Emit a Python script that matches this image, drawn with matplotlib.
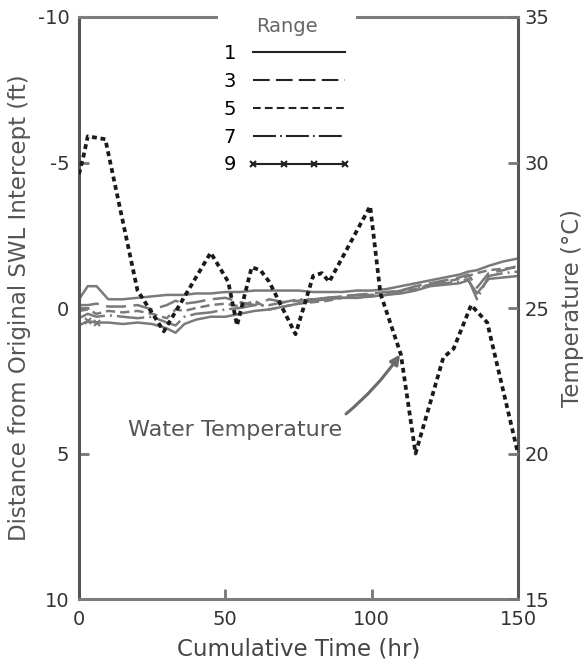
import numpy as np
import matplotlib.pyplot as plt

plt.rcParams['axes.unicode_minus'] = False

# cumulative time (hr) at which the beach profiles were read
hours = [0, 3, 6, 10, 15, 20, 25, 30, 33, 36, 40, 45, 50, 55, 60, 65, 70,
         75, 80, 85, 90, 95, 100, 105, 110, 115, 120, 125, 130, 133, 136,
         140, 145, 150]

# distance from original SWL intercept (ft) for each profile range
range_1 = [-0.3, -0.75, -0.75, -0.3, -0.3, -0.35, -0.4, -0.45, -0.45, -0.45,
           -0.5, -0.5, -0.55, -0.55, -0.6, -0.6, -0.6, -0.6, -0.55, -0.55,
           -0.55, -0.6, -0.6, -0.65, -0.75, -0.85, -0.95, -1.05, -1.15, -1.25,
           -1.3, -1.45, -1.6, -1.7]
range_3 = [-0.1, -0.1, -0.15, -0.05, -0.05, -0.1, 0.05, -0.1, -0.25, -0.15,
           -0.2, -0.3, -0.35, -0.2, -0.1, -0.3, -0.2, -0.25, -0.3, -0.35,
           -0.4, -0.45, -0.5, -0.55, -0.6, -0.75, -0.85, -0.95, -1.05, -1.15,
           -0.7, -1.2, -1.3, -1.45]
range_5 = [0.1, 0.05, 0.2, 0.1, 0.15, 0.1, 0.2, 0.35, 0.05, 0.1,
           0.0, -0.1, -0.15, -0.05, -0.25, 0.05, -0.05, -0.15, -0.2, -0.25,
           -0.35, -0.35, -0.4, -0.45, -0.55, -0.65, -0.8, -0.9, -1.0, -1.1,
           -1.2, -1.3, -1.35, -1.4]
range_7 = [0.35, 0.2, 0.3, 0.25, 0.3, 0.35, 0.3, 0.5, 0.6, 0.3,
           0.2, 0.15, 0.05, 0.0, -0.1, -0.1, -0.2, -0.3, -0.3, -0.35,
           -0.4, -0.45, -0.45, -0.5, -0.6, -0.7, -0.8, -0.85, -0.9, -1.0,
           -0.3, -1.1, -1.2, -1.25]
range_9 = [0.6, 0.45, 0.5, 0.5, 0.55, 0.5, 0.55, 0.7, 0.85, 0.55,
           0.4, 0.3, 0.3, 0.2, 0.1, 0.05, -0.05, -0.15, -0.25, -0.3,
           -0.35, -0.35, -0.4, -0.45, -0.5, -0.6, -0.75, -0.8, -0.85, -0.95,
           -0.5, -1.0, -1.05, -1.1]
range_names = ['1', '3', '5', '7', '9']

# water temperature (deg C)
temp_hours = [0, 1.5, 3, 9, 20, 29, 45, 51, 54, 59, 62, 65, 74, 80, 83, 85.5,
              99.5, 103, 110, 115, 124.5, 128, 134, 139.5, 150]
temp_c = [29.6, 30.2, 30.9, 30.8, 25.6, 24.2, 26.9, 25.9, 24.4, 26.4, 26.3,
          25.9, 24.1, 26.1, 26.2, 25.9, 28.5, 25.5, 23.4, 20.0, 23.3, 23.6,
          25.1, 24.5, 20.0]

fig = plt.figure(figsize=(5.86, 6.69), dpi=100)
ax = fig.add_axes([0.1348, 0.1046, 0.7491, 0.870])
ax2 = ax.twinx()

# range profiles
styles = ['-', (0, (8, 3)), (0, (3.7, 2)), (0, (11, 2, 0.8, 2)), '-']
series = [range_1, range_3, range_5, range_7, range_9]
for vals, name, ls in zip(series, range_names, styles):
    extra = {}
    if name == '9':
        extra = dict(marker='x', markevery=[1, 2], ms=5, mew=1.5)
    ax.plot(hours, vals, color='#7a7a7a', lw=1.8, ls=ls, label=name, **extra)

# water temperature
ax2.plot(temp_hours, temp_c, color='#1a1a1a', lw=2.7, ls=(0, (1.3, 1.0)))

ax.set_xlim(0, 150)
ax.set_ylim(10, -10)
ax2.set_ylim(15, 35)

ax.set_xticks([0, 50, 100, 150])
ax.set_yticks([-10, -5, 0, 5, 10])
ax2.set_yticks([15, 20, 25, 30, 35])

for a in (ax, ax2):
    a.tick_params(direction='in', length=7, width=2, color='#777',
                  labelsize=14, labelcolor='#333')
ax.tick_params(axis='x', pad=8)
ax.tick_params(axis='y', pad=7)
ax2.tick_params(axis='y', pad=5)

for s in ax.spines.values():
    s.set_linewidth(2.2)
    s.set_color('#7d7d7d')
for s in ('left', 'right'):
    ax.spines[s].set_color('#555')
for s in ax2.spines.values():
    s.set_visible(False)

ax.set_xlabel('Cumulative Time (hr)', fontsize=16.5, color='#444')
ax.xaxis.set_label_coords(0.5, -0.066)
ax.set_ylabel('Distance from Original SWL Intercept (ft)', fontsize=16.5,
              color='#555')
ax.yaxis.set_label_coords(-0.11, 0.5)
ax2.set_ylabel('Temperature (°C)', fontsize=16.5, color='#555')
ax2.yaxis.set_label_coords(1.098, 0.5)

ax2.annotate('Water Temperature', xy=(109.7, 23.4), xytext=(53.3, 20.8),
             ha='center', va='center', fontsize=16, color='#555',
             arrowprops=dict(arrowstyle='-|>', color='#6a6a6a', lw=2.2,
                             mutation_scale=14, relpos=(0.97, 0.9),
                             shrinkA=4, shrinkB=0,
                             connectionstyle='arc3,rad=0.08'))

leg = fig.legend(loc='upper center', bbox_to_anchor=(287 / 586, 1 - 1 / 669),
                 title='Range', fontsize=14, title_fontsize=14,
                 markerfirst=False, handlelength=5.3, handletextpad=0.6,
                 labelspacing=0.45, borderpad=0.3, numpoints=4,
                 frameon=True, facecolor='white', edgecolor='none',
                 framealpha=1, fancybox=False)
leg.get_title().set_color('#666')
for line in leg.get_lines():
    line.set_color('#222')
    line.set_linewidth(1.5)

fig.savefig('out.png', dpi=100)
